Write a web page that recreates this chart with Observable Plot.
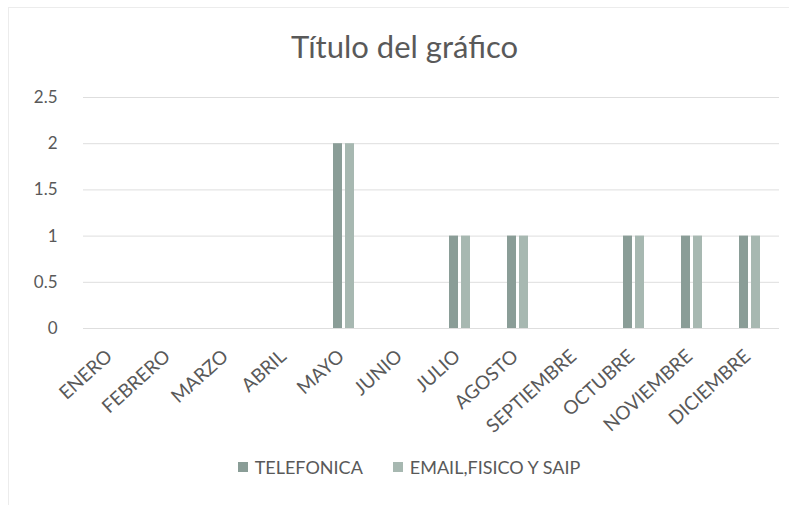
<!DOCTYPE html>
<html>
<head>
<meta charset="utf-8">
<script src="https://cdn.jsdelivr.net/npm/d3@7"></script>
<script src="https://cdn.jsdelivr.net/npm/@observablehq/plot@0.6"></script>
<style>
  body { margin: 0; background: #fff; }
  #wrap { position: relative; width: 789px; height: 505px; overflow: hidden; font-family: Lato, "Open Sans", sans-serif; color: #595959; }
  #frame { position: absolute; left: 8px; top: 7px; right: -2px; bottom: -2px; border-top: 1px solid #ececec; border-left: 1px solid #ececec; }
  #title { position: absolute; top: 29px; left: 0; width: 789px; padding-left: 20px; box-sizing: border-box; text-align: center; font-size: 31px; line-height: 34px; }
  #chart { position: absolute; top: 80px; left: 0; }
  #legend { position: absolute; top: 457px; left: 0; width: 789px; padding-left: 29px; box-sizing: border-box; display: flex; justify-content: center; gap: 30px; font-size: 18px; line-height: 20px; }
  .item { display: flex; align-items: center; gap: 7px; }
  .sw { width: 10px; height: 10px; display: inline-block; }
</style>
</head>
<body>
<div id="wrap">
  <div id="frame"></div>
  <div id="title">Título del gráfico</div>
  <div id="chart"></div>
  <div id="legend"></div>
</div>
<script>
const months = ["ENERO","FEBRERO","MARZO","ABRIL","MAYO","JUNIO","JULIO","AGOSTO","SEPTIEMBRE","OCTUBRE","NOVIEMBRE","DICIEMBRE"];
const series = ["TELEFONICA","EMAIL,FISICO Y SAIP"];
const telefonica      = [0,0,0,0,2,0,1,1,0,1,1,1];
const emailFisicoSaip = [0,0,0,0,2,0,1,1,0,1,1,1];
const yTicks = [0,0.5,1,1.5,2,2.5];
const colors = ["#8a9d97","#a7b8b1"];

const data = months.flatMap((m, i) => [
  {month: m, serie: series[0], value: telefonica[i]},
  {month: m, serie: series[1], value: emailFisicoSaip[i]}
]);

const chart = Plot.plot({
  width: 789,
  height: 360,
  marginLeft: 78,
  marginRight: 5,
  marginTop: 17,
  marginBottom: 112,
  style: {fontFamily: "Lato, 'Open Sans', sans-serif", fontSize: "17px", color: "#595959", background: "transparent"},
  fx: {domain: months, padding: 0, axis: null},
  x: {domain: series, axis: null, paddingInner: 0.23, paddingOuter: 1.38},
  y: {domain: [0, 2.5], ticks: yTicks, tickFormat: d => String(d), label: null, tickSize: 0, tickPadding: 26},
  color: {domain: series, range: colors},
  marks: [
    Plot.gridY(yTicks, {stroke: "#dedede", strokeOpacity: 1}),
    Plot.barY(data, {fx: "month", x: "serie", y: "value", fill: "serie"}),
    Plot.axisFx({anchor: "bottom", tickRotate: -42, tickSize: 0, tickPadding: 25, fontSize: 19, label: null, dx: -3})
  ]
});
document.getElementById("chart").appendChild(chart);

const legend = document.getElementById("legend");
series.forEach((s, i) => {
  const item = document.createElement("div");
  item.className = "item";
  const sw = document.createElement("span");
  sw.className = "sw";
  sw.style.background = colors[i];
  const label = document.createElement("span");
  label.textContent = s;
  item.appendChild(sw);
  item.appendChild(label);
  legend.appendChild(item);
});
</script>
</body>
</html>
